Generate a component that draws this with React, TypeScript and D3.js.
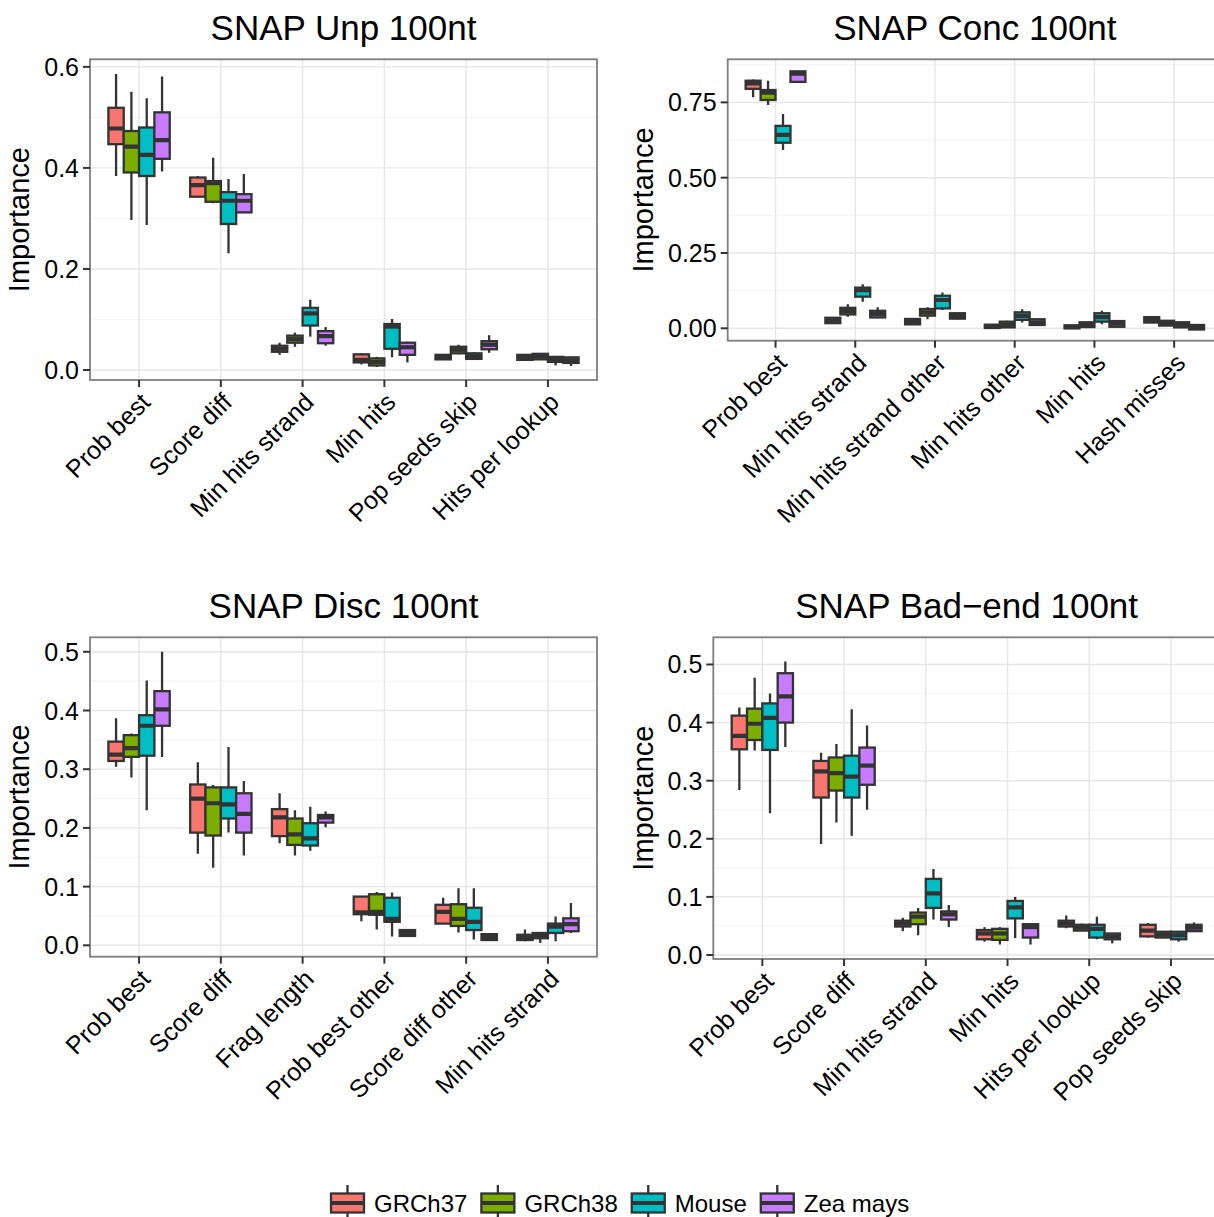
import React from "react";
import * as d3 from "d3";

// ---------------- DATA ----------------
const GENOMES = ["GRCh37", "GRCh38", "Mouse", "Zea mays"];
const COLORS = ["#F8766D", "#7CAE00", "#00BFC4", "#C77CFF"];

// Each stat = [lower whisker, Q1, median, Q3, upper whisker]
// Panel 1: SNAP Unp 100nt
const unpCategories = ["Prob best", "Score diff", "Min hits strand", "Min hits", "Pop seeds skip", "Hits per lookup"];
const unpGRCh37 = [[0.384, 0.447, 0.478, 0.519, 0.586], [0.343, 0.343, 0.366, 0.381, 0.384], [0.030, 0.036, 0.042, 0.048, 0.054], [0.011, 0.015, 0.020, 0.031, 0.033], [0.021, 0.021, 0.025, 0.030, 0.030], [0.018, 0.020, 0.025, 0.030, 0.031]];
const unpGRCh38 = [[0.297, 0.391, 0.442, 0.473, 0.551], [0.330, 0.333, 0.370, 0.374, 0.420], [0.046, 0.054, 0.061, 0.068, 0.074], [0.006, 0.009, 0.016, 0.023, 0.026], [0.031, 0.033, 0.040, 0.046, 0.050], [0.020, 0.021, 0.027, 0.032, 0.033]];
const unpMouse = [[0.287, 0.384, 0.426, 0.480, 0.538], [0.231, 0.289, 0.335, 0.352, 0.378], [0.066, 0.088, 0.112, 0.123, 0.139], [0.025, 0.042, 0.086, 0.091, 0.101], [0.020, 0.022, 0.027, 0.033, 0.035], [0.009, 0.016, 0.021, 0.026, 0.027]];
const unpZea = [[0.393, 0.418, 0.455, 0.510, 0.581], [0.312, 0.312, 0.335, 0.348, 0.388], [0.048, 0.053, 0.067, 0.077, 0.085], [0.015, 0.030, 0.045, 0.054, 0.056], [0.034, 0.041, 0.050, 0.057, 0.069], [0.008, 0.014, 0.019, 0.025, 0.026]];

// Panel 2: SNAP Conc 100nt
const concCategories = ["Prob best", "Min hits strand", "Min hits strand other", "Min hits other", "Min hits", "Hash misses"];
const concGRCh37 = [[0.767, 0.795, 0.813, 0.822, 0.826], [0.017, 0.017, 0.026, 0.035, 0.035], [0.013, 0.013, 0.022, 0.031, 0.031], [0.000, 0.001, 0.006, 0.012, 0.012], [-0.002, 0.000, 0.004, 0.010, 0.010], [0.019, 0.019, 0.028, 0.037, 0.038]];
const concGRCh38 = [[0.741, 0.758, 0.782, 0.791, 0.822], [0.038, 0.046, 0.057, 0.068, 0.080], [0.030, 0.042, 0.053, 0.064, 0.070], [0.002, 0.003, 0.012, 0.022, 0.025], [0.003, 0.004, 0.011, 0.020, 0.021], [0.009, 0.009, 0.017, 0.025, 0.025]];
const concMouse = [[0.592, 0.616, 0.642, 0.672, 0.711], [0.088, 0.105, 0.127, 0.135, 0.146], [0.061, 0.066, 0.094, 0.108, 0.119], [0.019, 0.028, 0.041, 0.053, 0.063], [0.013, 0.022, 0.037, 0.050, 0.058], [0.003, 0.003, 0.012, 0.020, 0.020]];
const concZea = [[0.814, 0.818, 0.845, 0.853, 0.855], [0.033, 0.036, 0.047, 0.058, 0.070], [0.030, 0.032, 0.041, 0.050, 0.052], [0.011, 0.011, 0.020, 0.030, 0.030], [0.005, 0.005, 0.015, 0.024, 0.024], [-0.005, -0.004, 0.003, 0.011, 0.011]];

// Panel 3: SNAP Disc 100nt
const discCategories = ["Prob best", "Score diff", "Frag length", "Prob best other", "Score diff other", "Min hits strand"];
const discGRCh37 = [[0.304, 0.314, 0.325, 0.347, 0.387], [0.156, 0.192, 0.250, 0.274, 0.312], [0.174, 0.186, 0.218, 0.232, 0.259], [0.041, 0.053, 0.056, 0.083, 0.084], [0.037, 0.037, 0.057, 0.069, 0.081], [0.007, 0.009, 0.013, 0.018, 0.027]];
const discGRCh38 = [[0.286, 0.321, 0.336, 0.358, 0.361], [0.132, 0.187, 0.242, 0.269, 0.273], [0.153, 0.171, 0.189, 0.216, 0.230], [0.027, 0.052, 0.057, 0.087, 0.091], [0.022, 0.033, 0.045, 0.070, 0.097], [0.004, 0.012, 0.017, 0.021, 0.022]];
const discMouse = [[0.230, 0.323, 0.374, 0.392, 0.451], [0.192, 0.216, 0.240, 0.269, 0.338], [0.161, 0.170, 0.182, 0.208, 0.236], [0.015, 0.040, 0.045, 0.081, 0.090], [0.010, 0.026, 0.040, 0.064, 0.097], [0.007, 0.021, 0.032, 0.037, 0.049]];
const discZea = [[0.321, 0.374, 0.402, 0.433, 0.500], [0.153, 0.192, 0.224, 0.259, 0.280], [0.201, 0.209, 0.218, 0.222, 0.228], [0.014, 0.016, 0.021, 0.026, 0.026], [0.009, 0.009, 0.014, 0.019, 0.019], [0.021, 0.024, 0.036, 0.046, 0.072]];

// Panel 4: SNAP Bad−end 100nt
const badCategories = ["Prob best", "Score diff", "Min hits strand", "Min hits", "Hits per lookup", "Pop seeds skip"];
const badGRCh37 = [[0.284, 0.354, 0.377, 0.412, 0.426], [0.191, 0.271, 0.316, 0.334, 0.348], [0.041, 0.049, 0.054, 0.059, 0.064], [0.023, 0.027, 0.037, 0.043, 0.048], [0.046, 0.049, 0.054, 0.059, 0.068], [0.030, 0.032, 0.042, 0.052, 0.055]];
const badGRCh38 = [[0.352, 0.370, 0.398, 0.424, 0.477], [0.228, 0.283, 0.313, 0.340, 0.363], [0.034, 0.053, 0.066, 0.073, 0.081], [0.018, 0.026, 0.037, 0.045, 0.048], [0.042, 0.042, 0.047, 0.052, 0.054], [0.030, 0.030, 0.035, 0.040, 0.040]];
const badMouse = [[0.244, 0.353, 0.408, 0.433, 0.450], [0.205, 0.271, 0.307, 0.343, 0.423], [0.061, 0.081, 0.106, 0.131, 0.148], [0.029, 0.063, 0.082, 0.093, 0.100], [0.027, 0.030, 0.045, 0.052, 0.066], [0.023, 0.027, 0.034, 0.040, 0.040]];
const badZea = [[0.358, 0.400, 0.445, 0.485, 0.505], [0.250, 0.293, 0.326, 0.357, 0.395], [0.048, 0.061, 0.070, 0.075, 0.086], [0.018, 0.030, 0.048, 0.053, 0.055], [0.020, 0.027, 0.032, 0.037, 0.037], [0.041, 0.041, 0.047, 0.052, 0.056]];

const ticks1 = [0, 0.2, 0.4, 0.6];
const ticks2 = [0, 0.25, 0.5, 0.75];
const ticks3 = [0, 0.1, 0.2, 0.3, 0.4, 0.5];
const ticks4 = [0, 0.1, 0.2, 0.3, 0.4, 0.5];

// ---------------- LAYOUT ----------------
const FONT = "'Liberation Sans', Arial, Helvetica, sans-serif";
const W = 1214;
const H = 1217;

const panels = [
  { title: "SNAP Unp 100nt", categories: unpCategories, series: [unpGRCh37, unpGRCh38, unpMouse, unpZea], ticks: ticks1, fmt: ".1f",
    left: 90, right: 597, top: 59.3, bottom: 380, yDomain: [-0.0198, 0.615], yTitleX: 29 },
  { title: "SNAP Conc 100nt", categories: concCategories, series: [concGRCh37, concGRCh38, concMouse, concZea], ticks: ticks2, fmt: ".2f",
    left: 727.7, right: 1222, top: 59.3, bottom: 340.7, yDomain: [-0.0412, 0.893], yTitleX: 653 },
  { title: "SNAP Disc 100nt", categories: discCategories, series: [discGRCh37, discGRCh38, discMouse, discZea], ticks: ticks3, fmt: ".1f",
    left: 90, right: 597, top: 637.3, bottom: 956.7, yDomain: [-0.0194, 0.5247], yTitleX: 29 },
  { title: "SNAP Bad\u2212end 100nt", categories: badCategories, series: [badGRCh37, badGRCh38, badMouse, badZea], ticks: ticks4, fmt: ".1f",
    left: 713.3, right: 1220, top: 637.3, bottom: 959, yDomain: [-0.0069, 0.5468], yTitleX: 653 },
];

function Panel({ cfg, idx }: { cfg: any; idx: number }) {
  const x = d3.scalePoint<string>().domain(cfg.categories).range([cfg.left, cfg.right]).padding(0.6);
  const step = x.step();
  const y = d3.scaleLinear().domain(cfg.yDomain).range([cfg.bottom, cfg.top]);
  const groupW = step * 0.75;
  const bw = groupW / GENOMES.length;
  const fmt = d3.format(cfg.fmt);
  const tk: number[] = cfg.ticks;
  const tstep = tk[1] - tk[0];
  const minor: number[] = [];
  for (let v = tk[0] - tstep / 2; v <= cfg.yDomain[1]; v += tstep) {
    if (v >= cfg.yDomain[0]) minor.push(v);
  }
  const cx = (cfg.left + cfg.right) / 2;
  const clipId = `clip${idx}`;
  return (
    <g>
      <defs>
        <clipPath id={clipId}>
          <rect x={cfg.left} y={cfg.top} width={cfg.right - cfg.left} height={cfg.bottom - cfg.top} />
        </clipPath>
      </defs>
      <rect x={cfg.left} y={cfg.top} width={cfg.right - cfg.left} height={cfg.bottom - cfg.top} fill="#ffffff" />
      <g clipPath={`url(#${clipId})`}>
        {minor.map((v, i) => (
          <line key={"mn" + i} x1={cfg.left} x2={cfg.right} y1={y(v)} y2={y(v)} stroke="#f2f2f2" strokeWidth={1} />
        ))}
        {tk.map((v, i) => (
          <line key={"mj" + i} x1={cfg.left} x2={cfg.right} y1={y(v)} y2={y(v)} stroke="#e6e6e6" strokeWidth={1.4} />
        ))}
        {cfg.categories.map((c: string) => (
          <line key={"vx" + c} x1={x(c)} x2={x(c)} y1={cfg.top} y2={cfg.bottom} stroke="#e6e6e6" strokeWidth={1.4} />
        ))}
        {cfg.series.map((ser: number[][], gi: number) =>
          cfg.categories.map((c: string, ci: number) => {
            const s = ser[ci];
            const center = (x(c) as number) - groupW / 2 + bw * (gi + 0.5);
            const x0 = center - bw / 2;
            const yq1 = y(s[1]);
            const yq3 = y(s[3]);
            return (
              <g key={`b${gi}-${ci}`}>
                <line x1={center} x2={center} y1={y(s[4])} y2={yq3} stroke="#333333" strokeWidth={2.3} />
                <line x1={center} x2={center} y1={yq1} y2={y(s[0])} stroke="#333333" strokeWidth={2.3} />
                <rect x={x0} y={yq3} width={bw} height={Math.max(0.1, yq1 - yq3)} fill={COLORS[gi]} stroke="#333333" strokeWidth={2.3} />
                <line x1={x0} x2={x0 + bw} y1={y(s[2])} y2={y(s[2])} stroke="#333333" strokeWidth={4.2} />
              </g>
            );
          })
        )}
      </g>
      <rect x={cfg.left} y={cfg.top} width={cfg.right - cfg.left} height={cfg.bottom - cfg.top} fill="none" stroke="#7f7f7f" strokeWidth={1.8} />
      {/* y axis */}
      {tk.map((v, i) => (
        <g key={"yt" + i}>
          <line x1={cfg.left - 7} x2={cfg.left} y1={y(v)} y2={y(v)} stroke="#333333" strokeWidth={2} />
          <text x={cfg.left - 11} y={y(v)} dy="0.36em" textAnchor="end" fontSize={25} fontFamily={FONT} fill="#000">{fmt(v)}</text>
        </g>
      ))}
      {/* x axis */}
      {cfg.categories.map((c: string) => (
        <g key={"xt" + c}>
          <line x1={x(c)} x2={x(c)} y1={cfg.bottom} y2={cfg.bottom + 7} stroke="#333333" strokeWidth={2} />
          <text transform={`translate(${x(c)},${cfg.bottom + 11}) rotate(-45)`} dy="0.72em" textAnchor="end" fontSize={25} fontFamily={FONT} fill="#000">{c}</text>
        </g>
      ))}
      <text transform={`translate(${cfg.yTitleX},${(cfg.top + cfg.bottom) / 2}) rotate(-90)`} textAnchor="middle" fontSize={29} fontFamily={FONT} fill="#000">Importance</text>
      <text x={cx} y={cfg.top - 19} textAnchor="middle" fontSize={35} fontFamily={FONT} fill="#000">{cfg.title}</text>
    </g>
  );
}

function measure(text: string, size: number): number {
  try {
    const cv = document.createElement("canvas");
    const ctx = cv.getContext("2d");
    if (ctx) {
      ctx.font = `${size}px ${FONT}`;
      return ctx.measureText(text).width;
    }
  } catch (e) {}
  return text.length * size * 0.55;
}

function Legend() {
  const keyW = 33;
  const boxH = 19;
  const cy = 1203;
  let cur = 331;
  const items = GENOMES.map((g, i) => {
    const kx = cur;
    const tx = kx + keyW + 10;
    const tw = measure(g, 24);
    cur = tx + tw + 14;
    return { g, i, kx, tx };
  });
  return (
    <g>
      {items.map(({ g, i, kx, tx }) => (
        <g key={g}>
          <line x1={kx + keyW / 2} x2={kx + keyW / 2} y1={cy - 18} y2={cy + 18} stroke="#333333" strokeWidth={2.3} />
          <rect x={kx} y={cy - boxH / 2} width={keyW} height={boxH} fill={COLORS[i]} stroke="#333333" strokeWidth={2.3} />
          <line x1={kx} x2={kx + keyW} y1={cy} y2={cy} stroke="#333333" strokeWidth={4} />
          <text x={tx} y={cy} dy="0.36em" fontSize={24} fontFamily={FONT} fill="#000">{g}</text>
        </g>
      ))}
    </g>
  );
}

export default function App() {
  return (
    <div>
      <style>{`body{margin:0;}`}</style>
      <svg width={W} height={H} style={{ position: "absolute", left: 0, top: 0, background: "#fff" }}>
        <rect x={0} y={0} width={W} height={H} fill="#ffffff" />
        {panels.map((p, i) => (
          <Panel key={i} cfg={p} idx={i} />
        ))}
        <Legend />
      </svg>
    </div>
  );
}
